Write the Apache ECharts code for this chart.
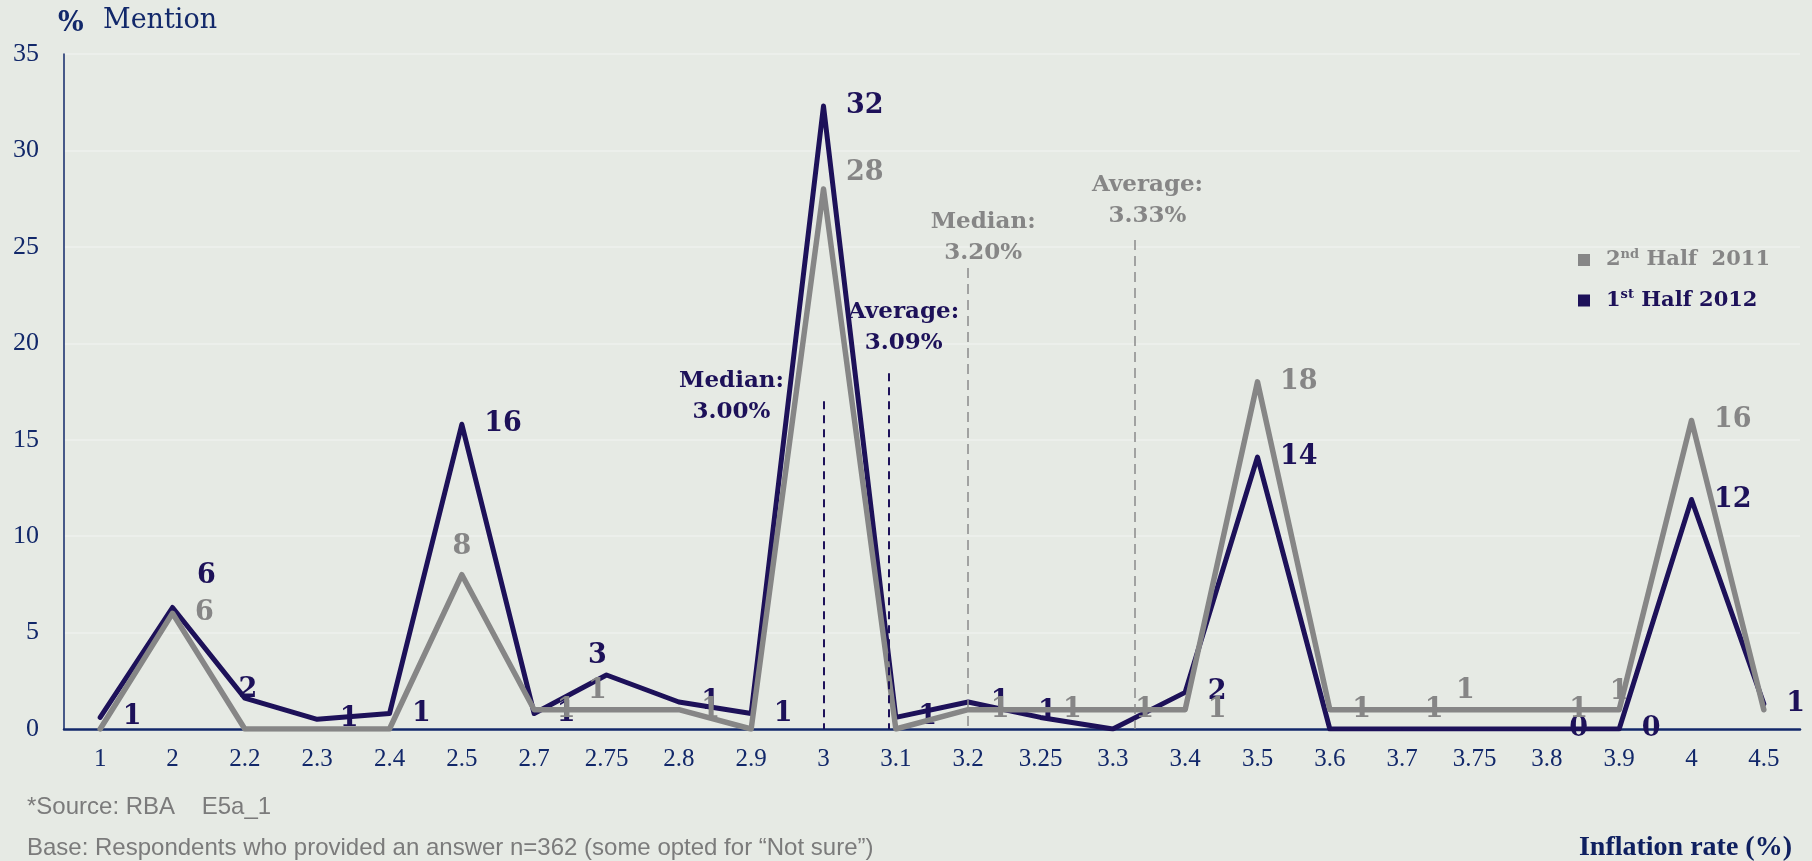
<!DOCTYPE html>
<html>
<head>
<meta charset="utf-8">
<title>Inflation expectations</title>
<script src="https://cdn.jsdelivr.net/npm/echarts@6/dist/echarts.min.js"></script>
<style>
  html, body { margin: 0; padding: 0; background: #e6eae4; }
  #chart { width: 1812px; height: 861px; }
</style>
</head>
<body>
<div id="chart"></div>
<script>
// ---- data -------------------------------------------------------------
const categories = ['1', '2', '2.2', '2.3', '2.4', '2.5', '2.7', '2.75', '2.8', '2.9', '3', '3.1',
                    '3.2', '3.25', '3.3', '3.4', '3.5', '3.6', '3.7', '3.75', '3.8', '3.9', '4', '4.5'];
const half2011 = [0, 6, 0, 0, 0, 8, 1, 1, 1, 0, 28, 0, 1, 1, 1, 1, 18, 1, 1, 1, 1, 1, 16, 1];
const half2012 = [0.6, 6.3, 1.6, 0.5, 0.8, 15.8, 0.8, 2.8, 1.4, 0.8, 32.3, 0.6,
                  1.4, 0.6, 0, 1.9, 14.1, 0, 0, 0, 0, 0, 11.9, 1.3];
const seriesNames = ['2nd Half  2011', '1st Half 2012'];
const yTicks = [0, 5, 10, 15, 20, 25, 30, 35];
// summary statistics: which series, kind, value (%)
const statSeries = [1, 1, 0, 0];
const statKinds = ['Median', 'Average', 'Median', 'Average'];
const statValues = [3.00, 3.09, 3.20, 3.33];

// ---- styling ----------------------------------------------------------
const NAVY = '#1d1159';
const GREY = '#868686';
const AXIS = '#12286a';
const seriesColors = [GREY, NAVY];
const NUM_FONT = 'DejaVu Serif';

// how high each dashed marker reaches (y units) and where its caption sits (px from top of marker)
const statReach = [17.0, 18.45, 23.9, 25.35];
const statCaptionShift = [[-92, -5], [15, -46], [15, -31], [13, -40]];

// label placement per point; anything not listed sits to the right of the point
const placement2012 = { 1: 'upRight', 2: 'on', 7: 'topLeft', 13: 'onRight', 14: 'hide', 17: 'hide', 18: 'hide', 19: 'hide' };
const placement2011 = { 0: 'hide', 2: 'hide', 3: 'hide', 4: 'hide', 9: 'hide', 11: 'hide', 23: 'hide',
                        5: 'topFar', 7: 'topLeft', 10: 'rightUp', 19: 'topLeft', 21: 'top' };

function labelFor(kind) {
  switch (kind) {
    case 'hide': return { show: false };
    case 'upRight': return { show: true, position: 'right', distance: 24, offset: [0, -32] };
    case 'rightUp': return { show: true, position: 'right', distance: 22, offset: [0, -16] };
    case 'on': return { show: true, position: 'inside', offset: [3, -8] };
    case 'onRight': return { show: true, position: 'inside', offset: [7, -5] };
    case 'topLeft': return { show: true, position: 'top', distance: 5, offset: [-9, 0] };
    case 'topFar': return { show: true, position: 'top', distance: 14 };
    case 'top': return { show: true, position: 'top', distance: 4 };
    default: return { show: true, position: 'right', distance: 22 };
  }
}

function buildPoints(values, placement) {
  return values.map((v, i) => ({ value: v, label: labelFor(placement[i]) }));
}

// fractional category position of a numeric rate, interpolated between neighbouring categories
const catNums = categories.map(Number);
function catPosition(v) {
  for (let i = 0; i < catNums.length - 1; i++) {
    if (v >= catNums[i] - 1e-9 && v <= catNums[i + 1] + 1e-9) {
      return i + (v - catNums[i]) / (catNums[i + 1] - catNums[i]);
    }
  }
  return catNums.length - 1;
}

const statPoints = statValues.map((v, i) => ({
  value: [catPosition(v), statReach[i]],
  label: {
    show: true,
    position: 'inside',
    offset: statCaptionShift[i],
    formatter: statKinds[i] + ':\n' + v.toFixed(2) + '%',
    color: seriesColors[statSeries[i]],
    textBorderWidth: 0
  }
}));

const statLines = statValues.map((v, i) => {
  const x = catPosition(v);
  const navy = statSeries[i] === 1;
  return [
    { coord: [x, statReach[i]], lineStyle: {
        color: navy ? NAVY : '#8a8a8a', width: navy ? 2 : 1.5, type: navy ? [8, 6] : [10, 6] } },
    { coord: [x, 0] }
  ];
});

function legendText(name) {
  const m = name.match(/^(\d+)(st|nd|rd|th)(.*)$/);
  const k = name === seriesNames[0] ? 'g' : 'n';
  return '{' + k + 'a|' + m[1] + '}{' + k + 's|' + m[2] + '}{' + k + 'b|' + m[3] + '}';
}

const legendFont = { fontFamily: NUM_FONT, fontWeight: 'bold', fontSize: 21, lineHeight: 24 };
const supFont = { fontFamily: NUM_FONT, fontWeight: 'bold', fontSize: 13, lineHeight: 24, verticalAlign: 'top', padding: [0, 0, 8, 0] };

const numLabel = { fontFamily: NUM_FONT, fontWeight: 'bold', fontSize: 27, textBorderWidth: 0,
                   formatter: p => String(Math.round(p.value)) };

const chart = echarts.init(document.getElementById('chart'), null, { renderer: 'canvas' });

chart.setOption({
  animation: false,
  backgroundColor: '#e6eae4',
  grid: { left: 64, right: 12, top: 54, bottom: 132, containLabel: false },
  legend: {
    orient: 'vertical',
    left: 1578,
    top: 248,
    padding: 0,
    itemGap: 18,
    itemWidth: 12,
    itemHeight: 12,
    icon: 'rect',
    data: [seriesNames[0], seriesNames[1]],
    formatter: legendText,
    selectedMode: false,
    textStyle: {
      rich: {
        ga: Object.assign({}, legendFont, { color: GREY, padding: [0, 0, 0, 11] }),
        gs: Object.assign({}, supFont, { color: GREY }),
        gb: Object.assign({}, legendFont, { color: GREY }),
        na: Object.assign({}, legendFont, { color: NAVY, padding: [0, 0, 0, 11] }),
        ns: Object.assign({}, supFont, { color: NAVY }),
        nb: Object.assign({}, legendFont, { color: NAVY })
      }
    }
  },
  xAxis: [
    {
      type: 'category',
      data: categories,
      boundaryGap: true,
      axisLine: { lineStyle: { color: AXIS, width: 2.5 } },
      axisTick: { show: false },
      axisLabel: { color: AXIS, fontFamily: 'Liberation Serif', fontSize: 25, margin: 18, interval: 0 },
      splitLine: { show: false }
    },
    {
      // same span as the category bands, used to place the median / average markers
      type: 'value',
      min: -0.5,
      max: categories.length - 0.5,
      show: false
    }
  ],
  yAxis: {
    type: 'value',
    min: yTicks[0],
    max: yTicks[yTicks.length - 1],
    interval: yTicks[1] - yTicks[0],
    axisLine: { show: true, onZero: false, lineStyle: { color: AXIS, width: 1.5 } },
    axisTick: { show: false },
    axisLabel: { color: AXIS, fontFamily: 'Liberation Serif', fontSize: 26, margin: 25 },
    splitLine: { show: true, lineStyle: { color: 'rgba(255,255,255,0.35)', width: 1.5 } }
  },
  series: [
    {
      name: seriesNames[1],
      type: 'line',
      data: buildPoints(half2012, placement2012),
      symbol: 'circle',
      symbolSize: 1,
      itemStyle: { color: NAVY },
      lineStyle: { color: NAVY, width: 5, join: 'round', cap: 'round' },
      label: Object.assign({ color: NAVY }, numLabel),
      emphasis: { disabled: true },
      z: 3
    },
    {
      name: seriesNames[0],
      type: 'line',
      data: buildPoints(half2011, placement2011),
      symbol: 'circle',
      symbolSize: 1,
      itemStyle: { color: GREY },
      lineStyle: { color: GREY, width: 5.5, join: 'round', cap: 'round' },
      label: Object.assign({ color: GREY }, numLabel),
      emphasis: { disabled: true },
      z: 4
    },
    {
      name: 'stats',
      type: 'scatter',
      xAxisIndex: 1,
      data: statPoints,
      symbolSize: 0,
      silent: true,
      itemStyle: { opacity: 1 },
      label: { fontFamily: NUM_FONT, fontWeight: 'bold', fontSize: 23, lineHeight: 31, align: 'center', textBorderWidth: 0 },
      markLine: {
        silent: true,
        symbol: ['none', 'none'],
        label: { show: false },
        data: statLines
      },
      z: 2
    }
  ],
  graphic: [
    { type: 'text', x: 58, y: 24, style: { text: '%', font: 'bold 27px "DejaVu Serif"', fill: AXIS, verticalAlign: 'middle' } },
    { type: 'text', x: 103, y: 21, style: { text: 'Mention', font: '27px "DejaVu Serif"', fill: AXIS, verticalAlign: 'middle' } },
    { type: 'text', x: 1792, y: 848, style: { text: 'Inflation rate (%)', font: 'bold 28px "Liberation Serif"', fill: '#0f2060', align: 'right', verticalAlign: 'middle' } },
    { type: 'text', x: 27, y: 807, style: { text: '*Source: RBA    E5a_1', font: '24px "Liberation Sans"', fill: '#7b7b7b', verticalAlign: 'middle' } },
    { type: 'text', x: 27, y: 848, style: { text: 'Base: Respondents who provided an answer n=362 (some opted for \u201CNot sure\u201D)', font: '24px "Liberation Sans"', fill: '#7b7b7b', verticalAlign: 'middle' } }
  ]
});
</script>
</body>
</html>
